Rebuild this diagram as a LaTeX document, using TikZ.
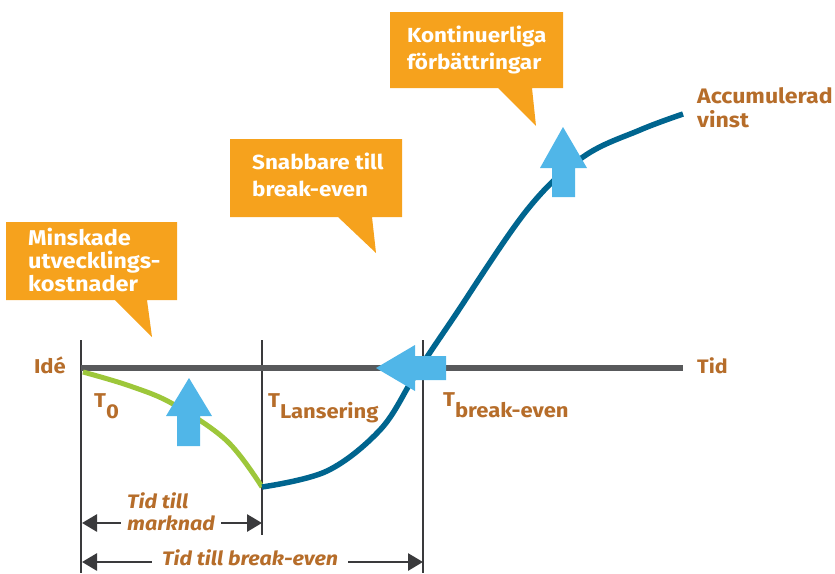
\documentclass[tikz,border=0pt]{standalone}
\usepackage{fontspec}
\setmainfont{Fira Sans}[FakeStretch=1.1]
\usetikzlibrary{arrows.meta}
\definecolor{orangebox}{HTML}{F6A21D}
\definecolor{brownlab}{HTML}{B66D2A}
\definecolor{axisgray}{HTML}{58595B}
\definecolor{linegray}{HTML}{3A3A3C}
\definecolor{curveblue}{HTML}{00658F}
\definecolor{curvegreen}{HTML}{9DC73A}
\definecolor{arrowblue}{HTML}{50B6E8}
\begin{document}
\begin{tikzpicture}[x=1pt,y=-1pt,
  calloutbox/.style={fill=orangebox},
  callouttext/.style={anchor=base west, inner sep=0pt, align=left, text=white, font=\fontsize{20.4}{27}\selectfont\bfseries},
  lab/.style={inner sep=0pt, text=brownlab, font=\fontsize{20}{24}\selectfont\bfseries},
  tlab/.style={inner sep=0pt, anchor=base west, text=brownlab, font=\fontsize{20}{20}\selectfont\bfseries},
  dimlab/.style={inner xsep=6pt, inner ysep=1pt, fill=white, text=brownlab, align=left, font=\fontsize{19.5}{22}\selectfont\bfseries\itshape},
  vline/.style={draw=linegray, line width=1.6pt},
  axisline/.style={draw=axisgray, line width=6pt},
  dimarrow/.style={draw=linegray, line width=2.8pt, {Triangle[length=15pt,width=17pt]}-{Triangle[length=15pt,width=17pt]}},
  bigarrow/.style={fill=arrowblue},
]
\useasboundingbox (0,0) rectangle (835,573);

% callouts
\fill[calloutbox] (6,222) -- (177,222) -- (177,300) -- (147,300) -- (152,337) -- (115,300) -- (6,300) -- cycle;
\node[callouttext, font=\fontsize{21.4}{23}\selectfont\bfseries] (c1) at (28,291) {Minskade\\utvecklings-\\kostnader};
\fill[calloutbox] (230,139) -- (402,139) -- (402,217) -- (372,217) -- (376,253) -- (338,217) -- (230,217) -- cycle;
\node[callouttext] (c2) at (252,196) {Snabbare till\\break-even};
\fill[calloutbox] (390,12) -- (563,12) -- (563,88) -- (532,88) -- (536,126) -- (498,88) -- (390,88) -- cycle;
\node[callouttext] (c3) at (407,69) {Kontinuerliga\\förbättringar};

% vertical lines
\coordinate (v1t) at (81,340); \coordinate (v1b) at (81,573);
\coordinate (v2t) at (262,340); \coordinate (v2b) at (262,535);
\coordinate (v3t) at (423,340); \coordinate (v3b) at (423,573);
\draw[vline] (v1t) -- (v1b);
\draw[vline] (v2t) -- (v2b);
\draw[vline] (v3t) -- (v3b);

% axis
\coordinate (axL) at (81,368); \coordinate (axR) at (683,368);
\draw[axisline] (axL) -- (axR);
\node[lab, anchor=base east] (ide) at (66,373) {Idé};
\node[lab, anchor=base west, font=\fontsize{19.5}{24}\selectfont\bfseries] (tid) at (697,373) {Tid};

% curves
\draw[curvegreen, line width=5pt] plot[smooth, tension=0.6] coordinates {(83,372) (130,386) (173,404) (227,441) (262,487)};
\draw[curveblue, line width=5.5pt] plot[smooth, tension=0.6] coordinates {(262,487) (327,471) (380,430) (411,382) (425,360) (452,320) (527,210) (583,157) (640,130) (683,114)};

\node[lab, anchor=base west, align=left, font=\fontsize{21}{24}\selectfont\bfseries] (acc) at (697,127) {Accumulerad\\vinst};

% T labels
\node[tlab] (t0) at (94,407) {T\raisebox{-11pt}{0}};
\node[tlab] (tl) at (268,407) {T\raisebox{-11pt}{Lansering}};
\node[tlab] (tb) at (443,406) {T\raisebox{-11pt}{break-even}};

% big arrows
\fill[bigarrow] (189,378) -- (212,416) -- (200,416) -- (200,446) -- (177,446) -- (177,416) -- (166,416) -- cycle;
\fill[bigarrow] (376,368) -- (415,345) -- (415,356) -- (446,356) -- (446,380) -- (415,380) -- (415,391) -- cycle;
\fill[bigarrow] (563,127) -- (587,168) -- (575,168) -- (575,197) -- (552,197) -- (552,168) -- (540,168) -- cycle;

% dimension arrows
\coordinate (m1) at (82,523); \coordinate (m2) at (262,523);
\draw[dimarrow] (m1) -- (m2);
\node[dimlab, anchor=base west] (tm) at (121,530) {Tid till\\marknad};
\coordinate (b1) at (82,562); \coordinate (b2) at (423,562);
\draw[dimarrow] (b1) -- (b2);
\node[dimlab, anchor=base west, inner xsep=10pt] (tb2) at (152,565) {Tid till break-even};
\end{tikzpicture}
\end{document}
